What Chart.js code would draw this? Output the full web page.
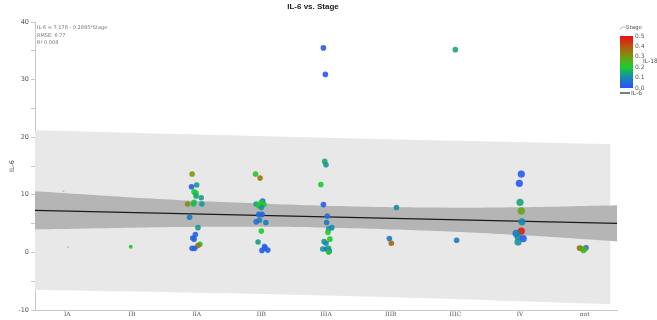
<!DOCTYPE html>
<html>
<head>
<meta charset="utf-8">
<script src="https://cdn.jsdelivr.net/npm/chart.js@4.4.0/dist/chart.umd.min.js"></script>
<style>
  html, body { margin: 0; padding: 0; background: #fff; }
</style>
</head>
<body>
<canvas id="grafico" width="657" height="320"></canvas>
<script>
// categorias do eixo x
const stages = ["IA", "IB", "IIA", "IIB", "IIIA", "IIIB", "IIIC", "IV", "not"];

// pontos: estágio (com dispersão), IL-6 e IL-18 (cor)
const stageX = [
  -0.06, 0.01,
  0.98,
  1.93, 1.92, 2.0, 1.96, 1.99, 1.99, 2.07, 1.96, 1.86, 1.95, 2.08, 1.89, 2.02, 1.98, 1.94, 1.96, 2.05, 2.02, 1.93, 1.97,
  2.91, 2.98, 3.02, 3.0, 2.92, 2.96, 3.04, 3.0, 2.96, 3.01, 2.97, 2.92, 3.07, 3.0, 2.95, 3.05, 3.01, 3.1, 3.06,
  3.96, 3.99, 3.98, 4.0, 3.92, 3.96, 4.02, 4.01, 4.04, 4.09, 4.03, 4.06, 3.97, 4.0, 3.95, 4.01, 4.04, 4.05, 4.04,
  5.09, 4.98, 5.01,
  6.0, 6.02,
  7.02, 6.99, 7.0, 7.02, 7.03, 7.02, 6.94, 6.97, 7.05, 6.97,
  7.92, 8.02, 7.98, 7.94, 8.0
];
const il6 = [
  10.6, 0.9,
  1.0,
  13.6, 11.4, 11.7, 10.5, 10.3, 9.8, 9.5, 8.7, 8.4, 8.4, 8.4, 6.1, 4.3, 3.1, 2.5, 2.3, 1.4, 1.2, 0.7, 0.7,
  13.6, 12.9, 8.9, 8.7, 8.4, 8.1, 8.3, 7.8, 6.6, 6.6, 5.6, 5.3, 5.2, 3.7, 1.8, 1.0, 0.35, 0.4, 0.75,
  35.5, 30.9, 15.8, 15.2, 11.8, 8.3, 6.3, 5.2, 4.1, 4.3, 3.5, 2.3, 1.9, 1.6, 0.6, 0.6, 0.7, 0.2, 0.05,
  7.8, 2.4, 1.6,
  35.2, 2.1,
  13.6, 12.0, 8.7, 7.2, 5.3, 3.7, 3.3, 2.7, 2.4, 1.8,
  0.75, 0.8, 0.35, 0.7, 0.6
];
const il18 = [
  null, null,
  0.22,
  0.3, 0.02, 0.12, 0.2, 0.2, 0.14, 0.13, 0.21, 0.32, 0.17, 0.12, 0.08, 0.12, 0.03, 0.03, 0.04, 0.22, 0.35, 0.02, 0.03,
  0.22, 0.35, 0.03, 0.2, 0.13, 0.2, 0.19, 0.12, 0.05, 0.04, 0.1, 0.06, 0.08, 0.2, 0.13, 0.03, 0.02, 0.02, 0.04,
  0.01, 0.01, 0.15, 0.12, 0.2, 0.02, 0.06, 0.07, 0.12, 0.1, 0.2, 0.21, 0.13, 0.1, 0.12, 0.04, 0.14, 0.03, 0.21,
  0.11, 0.08, 0.38,
  0.15, 0.08,
  0.02, 0.02, 0.14, 0.28, 0.1, 0.48, 0.08, 0.1, 0.02, 0.12,
  0.38, 0.03, 0.22, 0.3, 0.25
];

// reta de ajuste e faixas
const fitX = [-0.5, 8.5];
const fitY = [7.3, 5.05];
const confX = [-0.5, 1, 2.5, 4, 5.5, 7, 8.5];
const confUpper = [10.6, 9.55, 8.7, 8.1, 7.8, 7.85, 8.2];
const confLower = [4.0, 4.3, 4.45, 4.3, 3.8, 3.0, 1.9];
const predX = [-0.5, 4, 8.4];
const predUpper = [21.2, 19.9, 18.8];
const predLower = [-6.5, -7.5, -9.0];

const legendTicks = [0, 0.1, 0.2, 0.3, 0.4, 0.5];

// escala de cores do IL-18
const colorStops = [
  [0.0, [40, 80, 255]],
  [0.1, [25, 135, 175]],
  [0.2, [25, 205, 45]],
  [0.3, [115, 155, 15]],
  [0.4, [185, 85, 15]],
  [0.5, [235, 15, 15]]
];

function corIL18(v) {
  if (v === null) return 'rgba(170,170,215,0.7)';
  v = Math.max(0, Math.min(0.5, v));
  for (let i = 1; i < colorStops.length; i++) {
    const [v1, c1] = colorStops[i];
    const [v0, c0] = colorStops[i - 1];
    if (v <= v1) {
      const t = (v - v0) / (v1 - v0);
      const c = c0.map((a, k) => Math.round(a + (c1[k] - a) * t));
      return `rgba(${c[0]},${c[1]},${c[2]},0.9)`;
    }
  }
}

const pares = (xs, ys) => xs.map((x, i) => ({ x: x, y: ys[i] }));

// título, anotação e legenda de cores
const extras = {
  id: 'extras',
  afterDraw(chart) {
    const ctx = chart.ctx;
    ctx.save();
    ctx.fillStyle = '#222';
    ctx.font = 'bold 8px "Liberation Sans", sans-serif';
    ctx.textAlign = 'center';
    ctx.textBaseline = 'middle';
    ctx.fillText('IL-6 vs. Stage', 313, 7);

    ctx.textAlign = 'left';
    ctx.fillStyle = '#777';
    ctx.font = '5px "DejaVu Sans", sans-serif';
    ctx.fillText('IL-6 = 7.178 - 0.2895*Stage', 37, 28);
    ctx.fillText('RMSE: 6.77', 37, 35.5);
    ctx.fillText('R\u00b2 0.008', 37, 43);

    // barra de gradiente
    const x0 = 620, w = 13, top = 36, bot = 88;
    const g = ctx.createLinearGradient(0, bot, 0, top);
    colorStops.forEach(([v, c]) => g.addColorStop(v / 0.5, `rgb(${c[0]},${c[1]},${c[2]})`));
    ctx.fillStyle = g;
    ctx.fillRect(x0, top, w, bot - top);

    ctx.fillStyle = '#555';
    ctx.font = '6px "DejaVu Sans", sans-serif';
    legendTicks.forEach(v => {
      const y = bot - (v / 0.5) * (bot - top);
      ctx.fillText(v.toFixed(1), 635, y);
    });
    ctx.fillText('IL-18', 643, 61);
    ctx.font = '5.5px "DejaVu Sans", sans-serif';
    ctx.fillText('Stage', 626, 28);
    ctx.strokeStyle = '#999';
    ctx.lineWidth = 0.7;
    ctx.beginPath();
    ctx.arc(624, 31, 4, Math.PI * 1.1, Math.PI * 1.9);
    ctx.stroke();

    ctx.strokeStyle = '#333';
    ctx.lineWidth = 1.3;
    ctx.beginPath();
    ctx.moveTo(620, 93);
    ctx.lineTo(630, 93);
    ctx.stroke();
    ctx.fillStyle = '#555';
    ctx.font = '6px "DejaVu Sans", sans-serif';
    ctx.fillText('IL-6', 631, 93);
    ctx.restore();
  }
};

document.addEventListener("DOMContentLoaded", function () {
  const contexto = document.getElementById("grafico").getContext("2d");

  new Chart(contexto, {
    type: "scatter",
    data: {
      datasets: [
        {
          data: pares(stageX, il6),
          pointBackgroundColor: c => corIL18(il18[c.dataIndex]),
          pointBorderWidth: 0,
          pointRadius: c => {
            const v = il18[c.dataIndex];
            if (v === null) return 1;
            const s = Math.round(stageX[c.dataIndex]);
            return s === 7 ? 3.6 : (s === 1 ? 2 : 2.8);
          },
          order: 1
        },
        {
          type: "line",
          data: pares(fitX, fitY),
          borderColor: "#1a1a1a",
          borderWidth: 1.3,
          pointRadius: 0,
          fill: false,
          order: 2
        },
        {
          type: "line",
          data: pares(confX, confLower),
          borderWidth: 0,
          pointRadius: 0,
          tension: 0.4,
          fill: false,
          order: 3
        },
        {
          type: "line",
          data: pares(confX, confUpper),
          borderWidth: 0,
          pointRadius: 0,
          tension: 0.4,
          fill: "-1",
          backgroundColor: "#b5b5b5",
          order: 3
        },
        {
          type: "line",
          data: pares(predX, predLower),
          borderWidth: 0,
          pointRadius: 0,
          tension: 0.4,
          fill: false,
          order: 4
        },
        {
          type: "line",
          data: pares(predX, predUpper),
          borderWidth: 0,
          pointRadius: 0,
          tension: 0.4,
          fill: "-1",
          backgroundColor: "#e8e8e8",
          order: 4
        }
      ]
    },
    options: {
      responsive: false,
      animation: false,
      layout: { padding: { top: 22, right: 40, left: 0, bottom: 0 } },
      plugins: {
        legend: { display: false },
        tooltip: { enabled: false },
        title: { display: false }
      },
      scales: {
        x: {
          type: "linear",
          min: -0.5,
          max: 8.5,
          afterBuildTicks: s => { s.ticks = stages.map((_, i) => ({ value: i })); },
          ticks: {
            callback: v => stages[v] ?? "",
            autoSkip: false,
            maxRotation: 0,
            padding: 1,
            color: "#555",
            font: { size: 6, family: "DejaVu Serif" }
          },
          grid: { drawOnChartArea: false, drawTicks: false },
          border: { color: "#c8c8c8" },
          afterFit: s => { s.height = 10; }
        },
        y: {
          min: -10,
          max: 40,
          ticks: {
            stepSize: 5,
            callback: v => (v % 10 === 0 ? v : ""),
            padding: 2,
            color: "#555",
            font: { size: 6.5, family: "DejaVu Sans" }
          },
          grid: { drawOnChartArea: false, tickLength: 4, color: "#c8c8c8" },
          border: { color: "#c8c8c8" },
          title: {
            display: true,
            text: "IL-6",
            color: "#444",
            padding: { top: 8, bottom: 0 },
            font: { size: 6.5, family: "DejaVu Sans" }
          },
          afterFit: s => { s.width = 35; }
        }
      }
    },
    plugins: [extras]
  });
});
</script>
</body>
</html>
